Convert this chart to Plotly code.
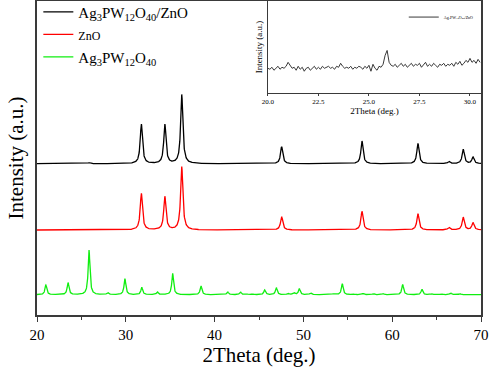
import numpy as np
import plotly.graph_objects as go

# ---------------- data ----------------
two_theta_min, two_theta_max = 20.0, 70.0

# Ag3PW12O40/ZnO (black) : peak positions, heights, baseline
comp_pos = [25.9, 31.75, 34.4, 36.3, 47.55, 56.6, 62.9, 66.4, 68.0, 69.1]
comp_h = [1.0, 39.7, 39.0, 69.0, 17.0, 22.7, 20.3, 2.3, 14.3, 6.7]
comp_base = 151.3

# ZnO (red)
zno_pos = [31.75, 34.4, 36.3, 47.55, 56.6, 62.9, 66.4, 68.0, 69.1]
zno_h = [36.7, 33.3, 63.3, 13.3, 18.7, 16.3, 2.7, 12.7, 7.3]
zno_base = 85.0

# Ag3PW12O40 (green)
apw_pos = [21.0, 23.5, 25.86, 27.96, 29.9, 31.8, 33.55, 35.28, 38.47, 41.47,
           42.9, 43.6, 44.25, 45.64, 46.95, 48.27, 48.94, 49.54, 50.82, 53.3,
           54.38, 55.55, 56.68, 57.87, 59.0, 61.18, 63.35, 64.48, 65.53, 66.58,
           67.63]
apw_h = [9.7, 12.0, 44.7, 2.0, 16.0, 7.3, 2.7, 21.3, 8.7, 2.7,
         2.7, 0.7, 1.0, 4.7, 7.0, 1.3, 1.7, 6.0, 1.7, 0.7,
         11.0, 1.0, 1.3, 1.0, 1.0, 10.3, 5.3, 0.7, 1.0, 1.7,
         1.0]
apw_base = 20.3

# inset: Ag3PW12O40/ZnO, 20.0 - 30.5 deg, step 0.1
inset_theta = [round(20.0 + 0.1 * i, 1) for i in range(106)]
inset_int = [25, 24, 26, 23, 25, 27, 24, 26, 25, 27,
             31, 28, 25, 26, 23, 27, 24, 26, 22, 25,
             26, 23, 25, 27, 24, 26, 24, 27, 25, 26,
             27, 25, 26, 24, 27, 26, 30, 27, 25, 26,
             25, 27, 24, 26, 25, 27, 26, 24, 27, 25,
             28, 22, 29, 25, 23, 27, 26, 29, 38, 43,
             31, 28, 27, 29, 26, 28, 30, 27, 29, 26,
             28, 30, 27, 29, 28, 30, 26, 29, 31, 27,
             29, 27, 30, 28, 26, 29, 28, 30, 27, 29,
             28, 30, 27, 31, 29, 32, 28, 30, 33, 31,
             35, 31, 33, 30, 34, 31]

names = ["Ag<sub>3</sub>PW<sub>12</sub>O<sub>40</sub>/ZnO",
         "<span style='font-size:12px'>ZnO</span>",
         "Ag<sub>3</sub>PW<sub>12</sub>O<sub>40</sub>"]
colors = ["#000000", "#ff0000", "#10ee10"]

# ---------------- build profiles from peak tables ----------------
x = np.linspace(two_theta_min, two_theta_max, 2501)


def profile(pos, h, base, fwhm):
    g = fwhm / 2.0
    y = np.full_like(x, base)
    for p, a in zip(pos, h):
        y += a * g * g / ((x - p) ** 2 + g * g)
    return y


curves = [profile(comp_pos, comp_h, comp_base, 0.30),
          profile(zno_pos, zno_h, zno_base, 0.30),
          profile(apw_pos, apw_h, apw_base, 0.24)]

fig = go.Figure()
for y, n, c in zip(curves, names, colors):
    fig.add_trace(go.Scatter(x=x, y=y, mode="lines", name=n,
                             line=dict(color=c, width=1.3)))

fig.add_trace(go.Scatter(x=inset_theta, y=inset_int, mode="lines",
                         name="Ag<sub>3</sub>PW<sub>12</sub>O<sub>40</sub>/ZnO",
                         line=dict(color="#222222", width=0.9),
                         xaxis="x2", yaxis="y2", legend="legend2"))

serif = "Liberation Serif"
axcol = "#3a3a3a"
fig.update_layout(
    width=490, height=370,
    margin=dict(l=37, r=9, t=1, b=55, autoexpand=False),
    paper_bgcolor="white", plot_bgcolor="white",
    font=dict(family=serif, color="#000"),
    showlegend=True,
    legend=dict(x=0.003, y=1.017, xanchor="left", yanchor="top",
                bgcolor="rgba(0,0,0,0)", font=dict(size=15, family=serif),
                tracegroupgap=0, itemwidth=30),
    legend2=dict(x=0.995, y=0.995, xanchor="right", yanchor="top",
                 bgcolor="rgba(0,0,0,0)", font=dict(size=4, family=serif),
                 itemwidth=30),
    xaxis=dict(range=[two_theta_min, two_theta_max], domain=[0, 1],
               automargin=False,
               showline=True, linecolor=axcol, linewidth=1.5, mirror=True,
               ticks="outside", ticklen=5, tickwidth=1.2, tickcolor=axcol,
               tickvals=[20, 30, 40, 50, 60, 70],
               minor=dict(tickvals=[25, 35, 45, 55, 65], ticks="outside",
                          ticklen=3, tickcolor=axcol),
               showgrid=False, zeroline=False,
               tickfont=dict(size=15, family=serif),
               title=dict(text="2Theta (deg.)", font=dict(size=21, family=serif),
                          standoff=4)),
    yaxis=dict(range=[0, 314], domain=[0, 1], automargin=False,
               showline=True, linecolor=axcol, linewidth=1.5, mirror=True,
               showticklabels=False, ticks="", showgrid=False, zeroline=False,
               title=dict(text="Intensity (a.u.)", font=dict(size=21, family=serif),
                          standoff=6)),
    xaxis2=dict(range=[20.0, 30.545], domain=[0.52, 1.0], anchor="y2",
                automargin=False,
                showline=True, linecolor=axcol, linewidth=1.0, mirror=True,
                ticks="outside", ticklen=2, tickcolor=axcol,
                tickvals=[20.0, 22.5, 25.0, 27.5, 30.0], tickformat=".1f",
                showgrid=False, zeroline=False,
                tickfont=dict(size=7, family=serif),
                title=dict(text="2Theta (deg.)", font=dict(size=9, family=serif),
                           standoff=2)),
    yaxis2=dict(range=[0, 93], domain=[0.707, 1.0], anchor="x2",
                automargin=False,
                showline=True, linecolor=axcol, linewidth=1.0, mirror=True,
                showticklabels=False, ticks="", showgrid=False, zeroline=False,
                title=dict(text="Intensity (a.u.)", font=dict(size=9, family=serif),
                           standoff=2)),
)

fig.write_html("out.html",
               config={"displayModeBar": False},
               post_script="document.body.style.margin='0';"
                           "document.body.style.overflow='hidden';")
